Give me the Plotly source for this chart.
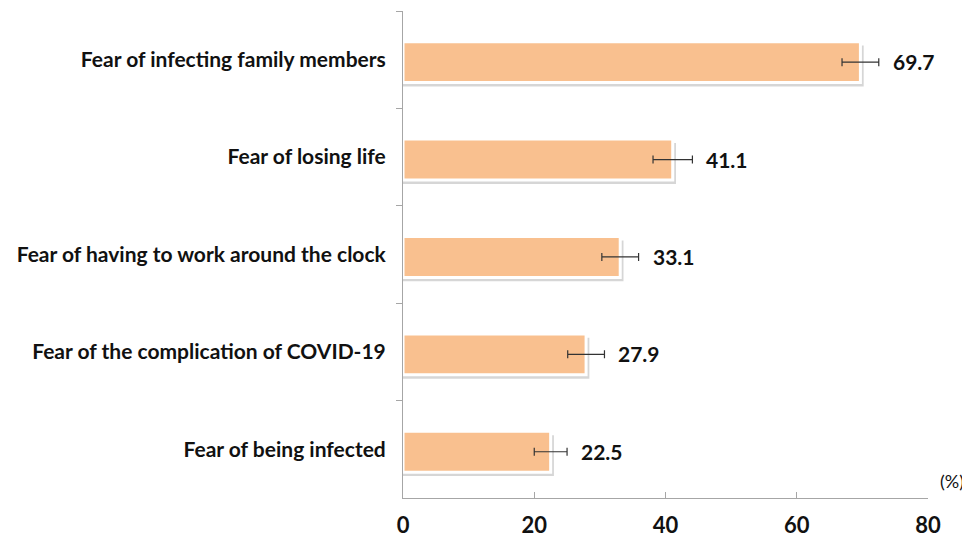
import plotly.graph_objects as go

# ── Data ──────────────────────────────────────────────────────────────────────
categories = [
    "Fear of infecting family members",
    "Fear of losing life",
    "Fear of having to work around the clock",
    "Fear of the complication of COVID-19",
    "Fear of being infected",
]
percent = [69.7, 41.1, 33.1, 27.9, 22.5]
error = [2.8, 3.0, 2.8, 2.8, 2.5]
x_ticks = [0, 20, 40, 60, 80]

# ── Style ─────────────────────────────────────────────────────────────────────
_FONT = "Lato, 'Open Sans', sans-serif"
_BAR = "#F9C08F"
_AXIS = "#A6A6A6"
_TEXT = "#111111"
_BAR_W = 0.42
_BAR_OFF = -_BAR_W / 2 + 0.025   # bars sit a touch below the category centre
# the page body adds an 8px margin, so the figure is shrunk to fit the window
_PAGE_PAD = 8

fig = go.Figure()

# soft drop shadow behind each bar
fig.add_trace(go.Bar(
    y=categories, x=[v + 0.5 for v in percent],
    orientation="h", width=_BAR_W, offset=_BAR_OFF + 0.04,
    marker=dict(color="rgba(0,0,0,0.16)", line=dict(width=0)),
    hoverinfo="skip",
))

fig.add_trace(go.Bar(
    y=categories, x=percent,
    orientation="h", width=_BAR_W, offset=_BAR_OFF,
    marker=dict(color=_BAR, line=dict(color="white", width=3)),
    error_x=dict(type="data", array=error, color="#333333",
                 thickness=1.2, width=4),
    hovertemplate="%{y}: %{x}%<extra></extra>",
))

# value labels just past the error bar
labels = [
    dict(x=v + e, y=c, text=f"{v:.1f}", xref="x", yref="y",
         xanchor="left", yanchor="middle", xshift=12, yshift=-2,
         showarrow=False,
         font=dict(family=_FONT, size=21, color=_TEXT, weight="bold"))
    for c, v, e in zip(categories, percent, error)
]
labels.append(dict(
    text="(%)", xref="paper", yref="paper", x=1.0, y=0.0,
    xanchor="left", yanchor="bottom", xshift=10, yshift=4,
    showarrow=False, font=dict(family=_FONT, size=18, color=_TEXT),
))

fig.update_layout(
    width=970 - _PAGE_PAD, height=537 - _PAGE_PAD,
    plot_bgcolor="white", paper_bgcolor="white",
    showlegend=False, barmode="overlay",
    margin=dict(l=403 - _PAGE_PAD, r=42, t=11 - _PAGE_PAD, b=39),
    font=dict(family=_FONT, color=_TEXT),
    xaxis=dict(
        range=[0, 80], tickvals=x_ticks, automargin=False,
        showgrid=False, zeroline=False,
        showline=True, linecolor=_AXIS, linewidth=1,
        ticks="inside", ticklen=6, tickcolor=_AXIS,
        tickfont=dict(family=_FONT, size=22, color=_TEXT, weight="bold"),
        ticklabelstandoff=8,
    ),
    yaxis=dict(
        autorange="reversed", automargin=False,
        showgrid=False, zeroline=False,
        showline=True, linecolor=_AXIS, linewidth=1,
        ticks="outside", ticklen=6, tickcolor=_AXIS, tickson="boundaries",
        tickfont=dict(family=_FONT, size=21, color=_TEXT, weight="bold"),
        ticklabelstandoff=12,
    ),
    annotations=labels,
)

fig.write_html("out.html")
